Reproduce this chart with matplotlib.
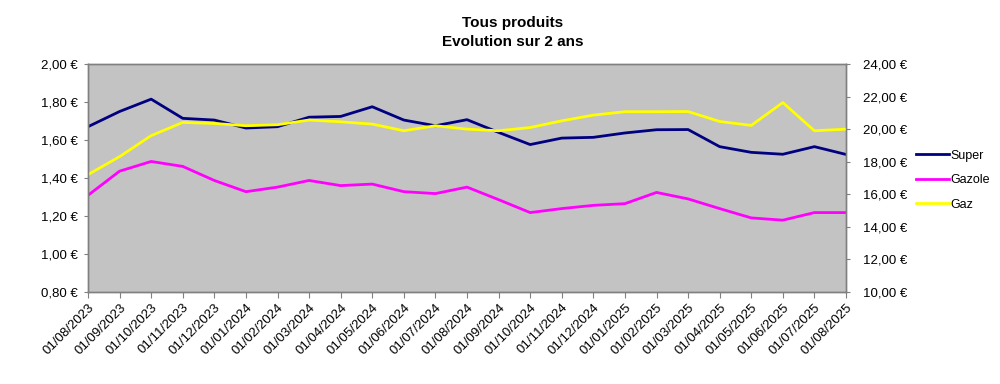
import matplotlib
matplotlib.use("Agg")
import matplotlib.pyplot as plt
from matplotlib.ticker import FuncFormatter, MultipleLocator

dates = ["01/08/2023", "01/09/2023", "01/10/2023", "01/11/2023", "01/12/2023",
         "01/01/2024", "01/02/2024", "01/03/2024", "01/04/2024", "01/05/2024",
         "01/06/2024", "01/07/2024", "01/08/2024", "01/09/2024", "01/10/2024",
         "01/11/2024", "01/12/2024", "01/01/2025", "01/02/2025", "01/03/2025",
         "01/04/2025", "01/05/2025", "01/06/2025", "01/07/2025", "01/08/2025"]

super_vals = [1.67, 1.75, 1.815, 1.714, 1.705, 1.663, 1.67, 1.72, 1.724, 1.775,
              1.705, 1.675, 1.707, 1.64, 1.576, 1.61, 1.614, 1.637, 1.654, 1.655,
              1.565, 1.535, 1.525, 1.565, 1.524]
gazole_vals = [1.309, 1.436, 1.487, 1.461, 1.387, 1.328, 1.352, 1.387, 1.36, 1.368,
               1.328, 1.318, 1.352, 1.286, 1.218, 1.239, 1.256, 1.265, 1.324, 1.29,
               1.239, 1.19, 1.178, 1.218, 1.218]
gaz_vals = [17.21, 18.31, 19.60, 20.41, 20.35, 20.21, 20.27, 20.56, 20.45, 20.31,
            19.90, 20.21, 20.0, 19.90, 20.1, 20.51, 20.86, 21.07, 21.07, 21.08,
            20.47, 20.23, 21.63, 19.90, 20.0]

def euro(v, pos):
    return ("%.2f €" % v).replace(".", ",")

plt.rcParams['font.family'] = ['Liberation Sans', 'DejaVu Sans']

fig = plt.figure(figsize=(10, 3.84), dpi=100)
ax = fig.add_axes([0.088, 1 - 292 / 384, (846 - 88) / 1000, (292 - 64) / 384])
ax2 = ax.twinx()

ax.set_facecolor('#c3c3c3')
x = list(range(len(dates)))
l1, = ax.plot(x, super_vals, color='#000080', lw=2, label='Super')
l2, = ax.plot(x, gazole_vals, color='#ff00ff', lw=2, label='Gazole')
l3, = ax2.plot(x, gaz_vals, color='#ffff00', lw=2, label='Gaz')

ax.set_xlim(0, len(dates) - 1)
ax.set_ylim(0.80, 2.00)
ax2.set_ylim(10, 24)
ax.yaxis.set_major_locator(MultipleLocator(0.2))
ax2.yaxis.set_major_locator(MultipleLocator(2))
ax.yaxis.set_major_formatter(FuncFormatter(euro))
ax2.yaxis.set_major_formatter(FuncFormatter(euro))

ax.set_xticks(x)
ax.set_xticklabels(dates, rotation=45, ha='right', rotation_mode='anchor', fontsize=9.5)
ax.tick_params(axis='y', labelsize=9.5, length=3, color='#808080', pad=4.5)
ax.tick_params(axis='x', length=4, color='#808080', pad=3)
ax2.tick_params(axis='y', labelsize=9.5, length=3, color='#808080', pad=9.5)

for a in (ax, ax2):
    for s in a.spines.values():
        s.set_color('#808080')
        s.set_linewidth(1)

fig.text(0.513, 1 - 23 / 384, "Tous produits", ha='center', va='center',
         fontsize=11, fontweight='bold')
fig.text(0.513, 1 - 42 / 384, "Evolution sur 2 ans", ha='center', va='center',
         fontsize=11, fontweight='bold')

fig.legend(handles=[l1, l2, l3], loc='center left', bbox_to_anchor=(0.905, 1 - 180 / 384),
           frameon=False, fontsize=9, handlelength=2.6, handletextpad=0.15,
           labelspacing=1.0)

fig.savefig("out.png", dpi=100)
